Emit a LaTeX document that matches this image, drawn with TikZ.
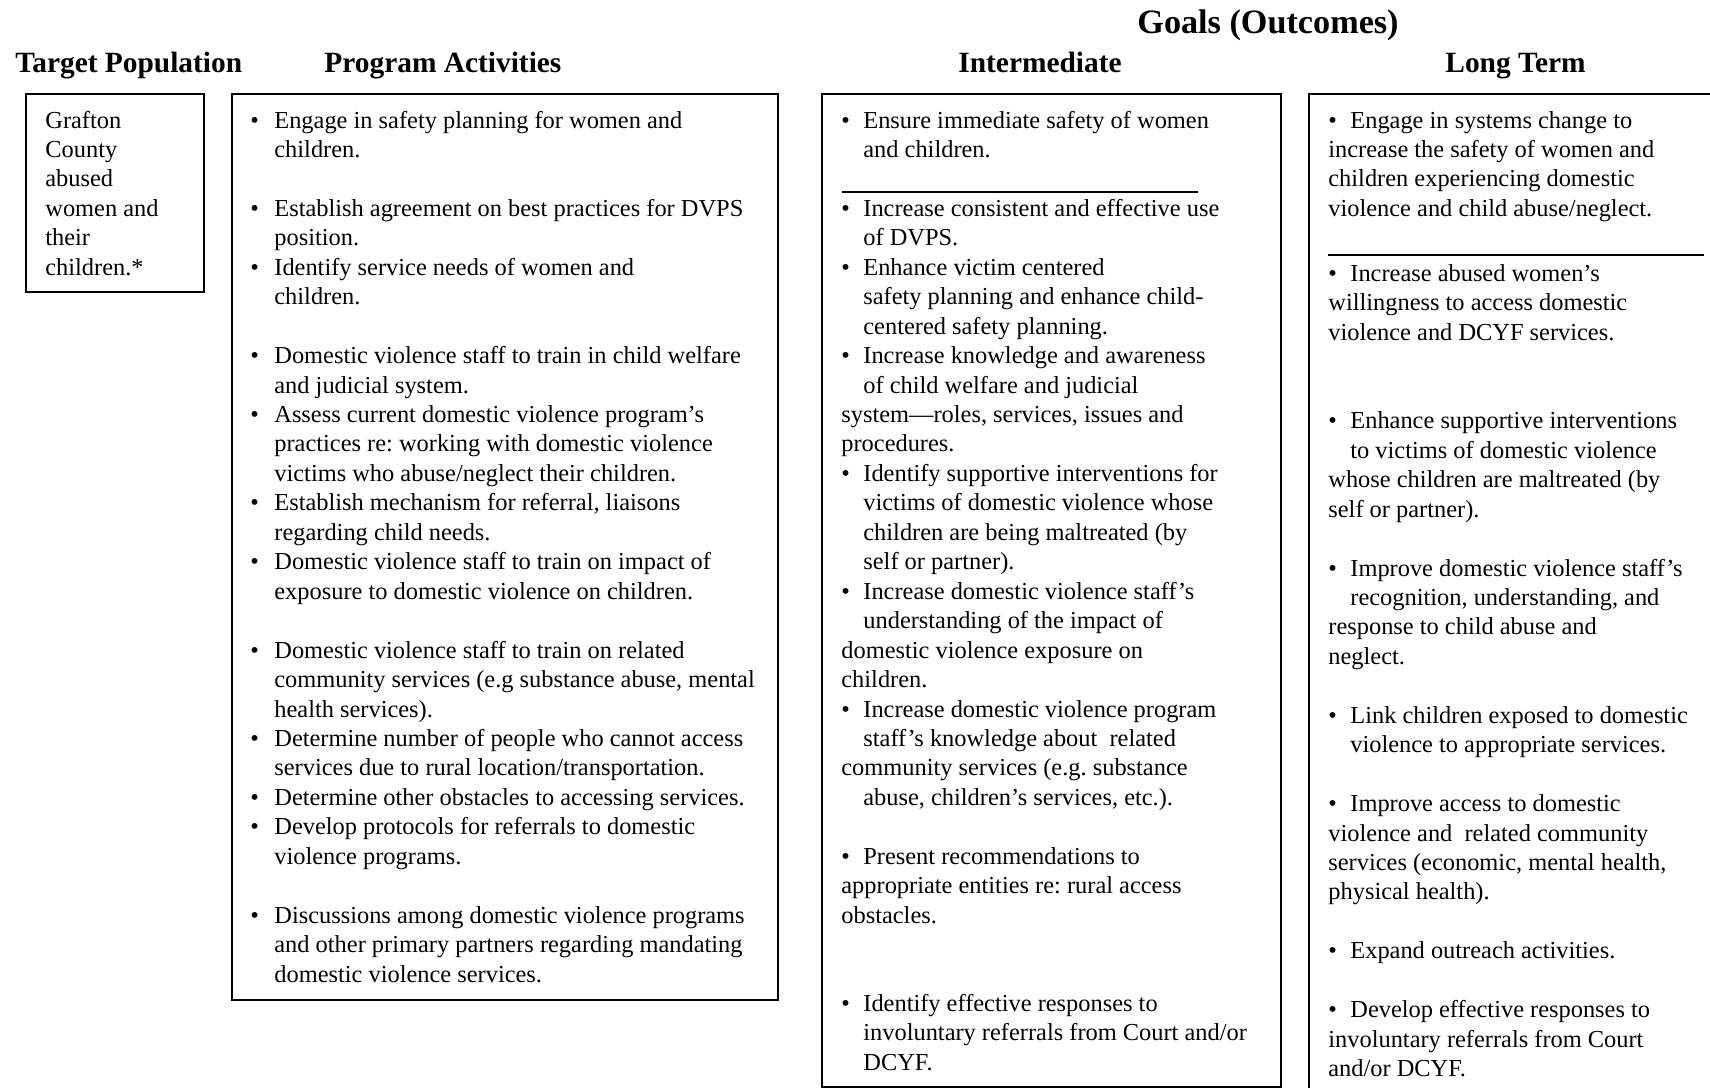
\documentclass[tikz,border=0pt]{standalone}
\usepackage{fontspec}
\setmainfont{Liberation Serif}
\frenchspacing
\newcommand\Bu{\makebox[11pt][l]{\textbullet}}
\newcommand\In{\hspace*{11pt}}
\newcommand\BuP{\makebox[12pt][l]{\textbullet}}
\newcommand\InP{\hspace*{12pt}}
\begin{document}
\begin{tikzpicture}[x=0.5pt,y=-0.5pt,
  txt/.style={anchor=base west,inner sep=0pt,font=\fontsize{12.2pt}{14.7pt}\selectfont\frenchspacing},
  hd/.style={anchor=base west,inner sep=0pt,font=\fontsize{14.7pt}{17pt}\selectfont\bfseries},
  bighd/.style={anchor=base west,inner sep=0pt,font=\fontsize{17.1pt}{20pt}\selectfont\bfseries},
  box/.style={draw=black,line width=1pt},
  sep/.style={draw=black,line width=1pt}]
\useasboundingbox (0,0) rectangle (1710,1088);
\clip (0,0) rectangle (1710,1088);

% headers
\node[bighd] (goals) at (1137,33) {Goals (Outcomes)};
\node[hd] (htp) at (15,72) {Target Population};
\node[hd] (hpa) at (324,72) {Program Activities};
\node[hd] (him) at (958,72) {Intermediate};
\node[hd] (hlt) at (1445,72) {Long Term};

% boxes
\draw[box] (25.5,94) rectangle (204,292);
\draw[box] (232,94) rectangle (778,1000);
\draw[box] (822,94) rectangle (1281,1087);
\draw[box] (1309,94) rectangle (1730,1110);

% separators
\draw[sep] (842,192) -- (1198,192);
\draw[sep] (1328,255) -- (1704,255);

% target population
\foreach \k/\t in {0/{Grafton},1/{County},2/{abused},3/{women and},4/{their},5/{children.*}}
  \node[txt] (tp\k) at (45,{128+29.45*\k}) {\t};

% program activities
\foreach \k/\t in {
 0/{\BuP Engage in safety planning for women and},
 1/{\InP children.},
 3/{\BuP Establish agreement on best practices for DVPS},
 4/{\InP position.},
 5/{\BuP Identify service needs of women and},
 6/{\InP children.},
 8/{\BuP Domestic violence staff to train in child welfare},
 9/{\InP and judicial system.},
 10/{\BuP Assess current domestic violence program’s},
 11/{\InP practices re: working with domestic violence},
 12/{\InP victims who abuse/neglect their children.},
 13/{\BuP Establish mechanism for referral, liaisons},
 14/{\InP regarding child needs.},
 15/{\BuP Domestic violence staff to train on impact of},
 16/{\InP exposure to domestic violence on children.},
 18/{\BuP Domestic violence staff to train on related},
 19/{\InP community services (e.g substance abuse, mental},
 20/{\InP health services).},
 21/{\BuP Determine number of people who cannot access},
 22/{\InP services due to rural location/transportation.},
 23/{\BuP Determine other obstacles to accessing services.},
 24/{\BuP Develop protocols for referrals to domestic},
 25/{\InP violence programs.},
 27/{\BuP Discussions among domestic violence programs},
 28/{\InP and other primary partners regarding mandating},
 29/{\InP domestic violence services.}}
  \node[txt] (pa\k) at (250,{128+29.45*\k}) {\t};

% intermediate
\foreach \k/\t in {
 0/{\Bu Ensure immediate safety of women},
 1/{\In and children.},
 3/{\Bu Increase consistent and effective use},
 4/{\In of DVPS.},
 5/{\Bu Enhance victim centered},
 6/{\In safety planning and enhance child-},
 7/{\In centered safety planning.},
 8/{\Bu Increase knowledge and awareness},
 9/{\In of child welfare and judicial},
 10/{system—roles, services, issues and},
 11/{procedures.},
 12/{\Bu Identify supportive interventions for},
 13/{\In victims of domestic violence whose},
 14/{\In children are being maltreated (by},
 15/{\In self or partner).},
 16/{\Bu Increase domestic violence staff’s},
 17/{\In understanding of the impact of},
 18/{domestic violence exposure on},
 19/{children.},
 20/{\Bu Increase domestic violence program},
 21/{\In staff’s knowledge about~ related},
 22/{community services (e.g. substance},
 23/{\In abuse, children’s services, etc.).},
 25/{\Bu Present recommendations to},
 26/{appropriate entities re: rural access},
 27/{obstacles.},
 30/{\Bu Identify effective responses to},
 31/{\In involuntary referrals from Court and/or},
 32/{\In DCYF.}}
  \node[txt] (im\k) at (841,{128+29.45*\k}) {\t};

% long term, top
\foreach \k/\t in {
 0/{\Bu Engage in systems change to},
 1/{increase the safety of women and},
 2/{children experiencing domestic},
 3/{violence and child abuse/neglect.}}
  \node[txt] (lt\k) at (1328,{128+29.45*\k}) {\t};

% long term, rest
\foreach \k/\t in {
 0/{\Bu Increase abused women’s},
 1/{willingness to access domestic},
 2/{violence and DCYF services.},
 5/{\Bu Enhance supportive interventions},
 6/{\In to victims of domestic violence},
 7/{whose children are maltreated (by},
 8/{self or partner).},
 10/{\Bu Improve domestic violence staff’s},
 11/{\In recognition, understanding, and},
 12/{response to child abuse and},
 13/{neglect.},
 15/{\Bu Link children exposed to domestic},
 16/{\In violence to appropriate services.},
 18/{\Bu Improve access to domestic},
 19/{violence and~ related community},
 20/{services (economic, mental health,},
 21/{physical health).},
 23/{\Bu Expand outreach activities.},
 25/{\Bu Develop effective responses to},
 26/{involuntary referrals from Court},
 27/{and/or DCYF.}}
  \node[txt] (ltb\k) at (1328,{281.5+29.45*\k}) {\t};
\end{tikzpicture}
\end{document}
